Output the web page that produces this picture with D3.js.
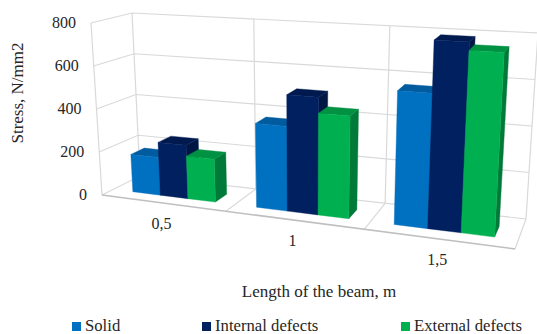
<!DOCTYPE html>
<html>
<head>
<meta charset="utf-8">
<script src="https://cdn.jsdelivr.net/npm/d3@7"></script>
<style>
html,body{margin:0;padding:0;background:#fff}
text{font-family:"Liberation Serif","Times New Roman",serif;fill:#262626}
</style>
</head>
<body>
<div class="canva"></div>
<script>
const categories=["0,5","1","1,5"]
const seriesNames=["Solid","Internal defects","External defects"]
const solid=[175,375,570]
const internalDefects=[245,515,795]
const externalDefects=[195,445,760]
const seriesValues=[solid,internalDefects,externalDefects]
const yTicks=[0,200,400,600,800]
const frontColors=["#0070c0","#002060","#00b050"]
const topColors=["#005c9e","#001a4f","#009142"]
const sideColors=["#00528c","#001746","#007a38"]

const width=537,height=334

const svg=d3.select(".canva").append("svg")
.attr("width",width)
.attr("height",height)
.style("display","block")

//corners of the 3d box on screen, order is front left, front right, back right, back left
const floorQuad=[[102,195],[515,249],[526,219],[140,176]]
const roofQuad=[[91,23],[526,49],[538,33],[132,13]]

const mix=(a,b,t)=>[a[0]+(b[0]-a[0])*t,a[1]+(b[1]-a[1])*t]
function onQuad(q,u,w){
  return mix(mix(q[0],q[1],u),mix(q[3],q[2],u),w)
}

const y=d3.scaleLinear().domain([0,800]).range([0,1])
const xGroup=d3.scaleBand().domain(categories).range([0,1])
//groups get wider towards the viewer
const perspective=d3.scaleLinear().domain([0,1/3,2/3,1]).range([0,0.3,0.635,1])
const barFront=0.3,barBack=0.66,groupPad=0.16

//u along categories, v value, w depth from the front
function project(u,v,w){
  const pu=perspective(u)
  return mix(onQuad(floorQuad,pu,w),onQuad(roofQuad,pu,w),y(v))
}
const line=d3.line()
const gridColor="#d9d9d9"

function drawLine(pts,color,w){
  svg.append("path").attr("d",line(pts)).attr("fill","none").attr("stroke",color).attr("stroke-width",w||1)
}

//walls
yTicks.forEach(t=>{
  drawLine([project(0,t,0),project(0,t,1),project(1,t,1)],gridColor,1.2)
})
drawLine([project(0,0,0),project(0,800,0)],gridColor,1.2)
drawLine([project(0,0,1),project(0,800,1)],gridColor,1.2)
drawLine([project(1,0,1),project(1,800,1)],gridColor,1.2)
categories.forEach((c,i)=>{
  if(i>0){
    const u=xGroup(c)
    drawLine([project(u,0,1),project(u,800,1)],gridColor,1.2)
    drawLine([project(u,0,0),project(u,0,1)],gridColor,1.2)
  }
})
drawLine([project(1,0,0),project(1,0,1)],gridColor,1.2)
drawLine([project(0,0,0),project(1,0,0)],"#bfbfbf",1.5)

//bars, left to right
categories.forEach((c,ci)=>{
  const g0=xGroup(c)+xGroup.bandwidth()*groupPad
  const gw=xGroup.bandwidth()*(1-2*groupPad)
  seriesNames.forEach((s,si)=>{
    const v=seriesValues[si][ci]
    const u0=g0+gw*si/seriesNames.length
    const u1=g0+gw*(si+1)/seriesNames.length
    const face=(pts,col)=>svg.append("path")
      .attr("class","bar")
      .attr("d",line(pts)+"Z")
      .attr("fill",col)
      .attr("stroke",col)
      .attr("stroke-width",0.4)
    face([project(u1,0,barFront),project(u1,0,barBack),project(u1,v,barBack),project(u1,v,barFront)],sideColors[si])
    face([project(u0,v,barFront),project(u1,v,barFront),project(u1,v,barBack),project(u0,v,barBack)],topColors[si])
    face([project(u0,0,barFront),project(u1,0,barFront),project(u1,v,barFront),project(u0,v,barFront)],frontColors[si])
  })
})

//tick labels
yTicks.forEach(t=>{
  const p=project(0,t,0)
  svg.append("text").attr("x",p[0]-15).attr("y",p[1]+5)
  .attr("text-anchor","end").attr("font-size",16).text(t)
})
categories.forEach(c=>{
  const p=project(xGroup(c)+xGroup.bandwidth()/2,0,0)
  svg.append("text").attr("x",p[0]-2.5).attr("y",p[1]+26)
  .attr("text-anchor","middle").attr("font-size",16).text(c)
})

//titles
svg.append("text").attr("x",319).attr("y",297).attr("text-anchor","middle")
.attr("font-size",17).text("Length of the beam, m")
svg.append("text").attr("transform","translate(23,93) rotate(-90)").attr("text-anchor","middle")
.attr("font-size",17).text("Stress, N/mm2")

//legend
const legendX=d3.scaleOrdinal().domain(seriesNames).range([72,202,401])
seriesNames.forEach((s,i)=>{
  svg.append("rect").attr("x",legendX(s)).attr("y",322).attr("width",9).attr("height",9).attr("fill",frontColors[i])
  svg.append("text").attr("x",legendX(s)+13).attr("y",331).attr("font-size",16.7).text(s)
})
</script>
</body>
</html>
